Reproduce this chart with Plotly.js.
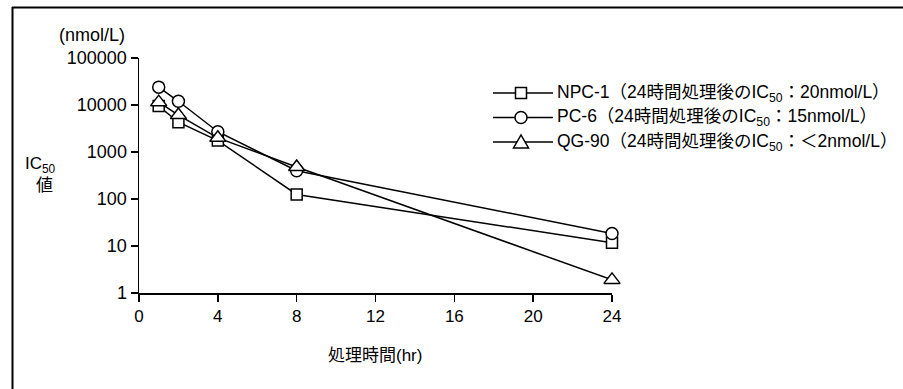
<!DOCTYPE html>
<html>
<head>
<meta charset="utf-8">
<script src="https://cdn.plot.ly/plotly-3.0.1.min.js"></script>
<style>html,body{margin:0;padding:0;background:#fff;}#chart{width:903px;height:389px;}</style>
</head>
<body>
<div id="chart"></div>
<script>
// ---- data ----
const hours = [1, 2, 4, 8, 24];
const npc1 = [9500, 4300, 1750, 125, 11.7];
const pc6 = [24000, 12000, 2700, 400, 18.5];
const qg90 = [11500, 6100, 2000, 480, 1.9];
const seriesNames = ["NPC-1", "PC-6", "QG-90"];
const legendTexts = [
  "NPC-1（24時間処理後のIC<sub>50</sub>：20nmol/L）",
  "PC-6（24時間処理後のIC<sub>50</sub>：15nmol/L）",
  "QG-90（24時間処理後のIC<sub>50</sub>：＜2nmol/L）"
];
const xTickVals = [0, 4, 8, 12, 16, 20, 24];
const yTickVals = [1, 10, 100, 1000, 10000, 100000];
const yTickText = ["1", "10", "100", "1000", "10000", "100000"];
const xTitle = "処理時間(hr)";
const yUnit = "(nmol/L)";
const yTitle1 = "IC<sub>50</sub>";
const yTitle2 = "値";

// ---- layout geometry (pixels) ----
const L = 139, R = 903 - 612, T = 58, B = 389 - 293;
const W = 903 - L - R, H = 389 - T - B;
const px = v => (v - L) / W;
const py = v => (389 - B - v) / H;

const FONT = "Liberation Sans, Arial, Noto Sans CJK JP, sans-serif";
const symbols = ["square", "circle", "triangle-up"];
const sizes = [11, 12, 14];
const seriesData = [npc1, pc6, qg90];

const traces = seriesData.map((ys, i) => ({
  x: hours, y: ys, name: seriesNames[i], type: "scatter", mode: "lines+markers",
  line: {color: "#000", width: 1.5},
  marker: {symbol: symbols[i], size: sizes[i], color: "#fff", line: {color: "#000", width: 1.5}},
  cliponaxis: false, showlegend: false
}));

// custom legend
const shapes = [];
const annotations = [];
const legY = [93, 117.5, 142];
const lx0 = 493, lx1 = 553, lmx = 521;
legY.forEach((y, i) => {
  shapes.push({type: "line", xref: "paper", yref: "paper", x0: px(lx0), x1: px(lx1), y0: py(y), y1: py(y), line: {color: "#000", width: 1.5}});
  if (i === 0) {
    shapes.push({type: "rect", xref: "paper", yref: "paper", x0: px(lmx - 5.5), x1: px(lmx + 5.5), y0: py(y - 5.5), y1: py(y + 5.5), fillcolor: "#fff", line: {color: "#000", width: 1.5}});
  } else if (i === 1) {
    shapes.push({type: "circle", xref: "paper", yref: "paper", x0: px(lmx - 6), x1: px(lmx + 6), y0: py(y - 6), y1: py(y + 6), fillcolor: "#fff", line: {color: "#000", width: 1.5}});
  } else {
    const p = `M ${px(lmx - 7.5)} ${py(y + 6)} L ${px(lmx + 7.5)} ${py(y + 6)} L ${px(lmx)} ${py(y - 7)} Z`;
    shapes.push({type: "path", xref: "paper", yref: "paper", path: p, fillcolor: "#fff", line: {color: "#000", width: 1.5}});
  }
  annotations.push({xref: "paper", yref: "paper", x: px(555), y: py(y), xanchor: "left", yanchor: "middle", text: legendTexts[i], showarrow: false, font: {family: FONT, size: 17.5, color: "#000"}});
});

// outer frame (left and top)
shapes.push({type: "line", xref: "paper", yref: "paper", x0: px(12.5), x1: px(12.5), y0: py(7), y1: py(389), line: {color: "#000", width: 2}});
shapes.push({type: "line", xref: "paper", yref: "paper", x0: px(12), x1: px(903), y0: py(7.5), y1: py(7.5), line: {color: "#000", width: 2}});

annotations.push({xref: "paper", yref: "paper", x: px(92), y: py(35), xanchor: "center", yanchor: "middle", text: yUnit, showarrow: false, font: {family: FONT, size: 18, color: "#000"}});
annotations.push({xref: "paper", yref: "paper", x: px(40), y: py(165), xanchor: "center", yanchor: "middle", text: yTitle1, showarrow: false, font: {family: FONT, size: 17, color: "#000"}});
annotations.push({xref: "paper", yref: "paper", x: px(44), y: py(185), xanchor: "center", yanchor: "middle", text: yTitle2, showarrow: false, font: {family: FONT, size: 17, color: "#000"}});
annotations.push({xref: "paper", yref: "paper", x: px(375), y: py(355), xanchor: "center", yanchor: "middle", text: xTitle, showarrow: false, font: {family: FONT, size: 17, color: "#000"}});

const layout = {
  width: 903, height: 389,
  margin: {l: L, r: R, t: T, b: B, pad: 0},
  paper_bgcolor: "#fff", plot_bgcolor: "#fff",
  showlegend: false,
  font: {family: FONT, size: 17, color: "#000"},
  xaxis: {
    range: [0, 24], tickmode: "array", tickvals: xTickVals,
    showline: true, linecolor: "#000", linewidth: 1.5,
    ticks: "outside", ticklen: 7, tickwidth: 1.5, tickcolor: "#000",
    showgrid: false, zeroline: false, fixedrange: true,
    tickfont: {family: FONT, size: 17, color: "#000"}
  },
  yaxis: {
    type: "log", range: [0, 5], tickmode: "array", tickvals: yTickVals, ticktext: yTickText,
    showline: true, linecolor: "#000", linewidth: 1.5,
    ticks: "outside", ticklen: 7, tickwidth: 1.5, tickcolor: "#000",
    showgrid: false, zeroline: false, fixedrange: true,
    tickfont: {family: FONT, size: 18, color: "#000"}
  },
  shapes: shapes,
  annotations: annotations
};

Plotly.newPlot("chart", traces, layout, {displayModeBar: false, staticPlot: true});
</script>
</body>
</html>
